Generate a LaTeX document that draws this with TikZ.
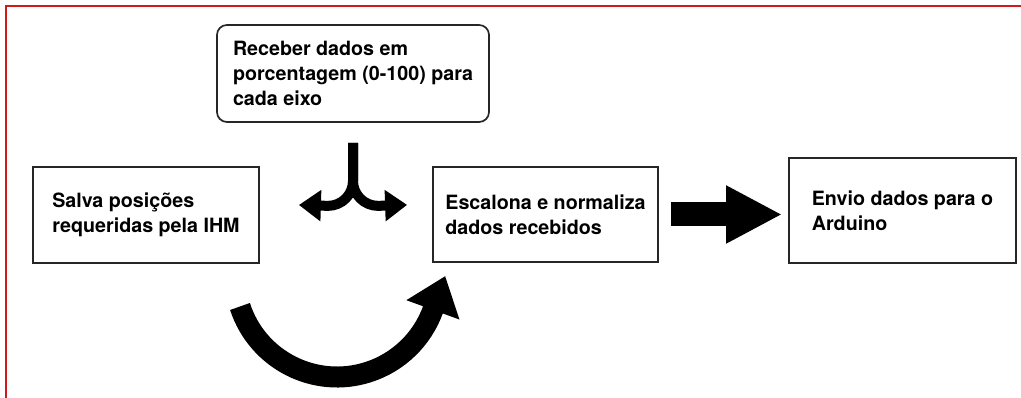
\documentclass[tikz,border=0pt]{standalone}
\usepackage{fontspec}
\setmainfont{TeX Gyre Heros}
\usetikzlibrary{arrows.meta}
\definecolor{frameRed}{RGB}{210,25,25}

\begin{document}
\begin{tikzpicture}[x=0.025cm, y=0.025cm,
    every node/.style={font=\fontsize{14}{17.5}\selectfont\bfseries},
    stage/.style={draw=black!85, line width=1.2pt, align=left},
    fork/.style={line width=0.25cm, -{Triangle[width=0.75cm, length=0.55cm]}},
    bigarrow/.style={line width=0.6cm, -{Triangle[width=1.35cm, length=1.4cm]}},
    loopArrow/.style={line width=0.525cm, -{Triangle[width=1.35cm, length=0.9cm]}},
    frameline/.style={draw=frameRed, line width=0.05cm}]
    \useasboundingbox (0,0) rectangle (1021,398);
    \draw[frameline] (6,0) -- (6,392) -- (1021,392);

    \node[stage, rounded corners=0.25cm, minimum width=6.8cm, minimum height=2.425cm] (recebe) at (353,324.5)
      {Receber dados em\\porcentagem (0-100) para\\cada eixo};
    \node[stage, minimum width=5.65cm, minimum height=2.4cm] (salva) at (146,183)
      {Salva posições\\requeridas pela IHM};
    \node[stage, minimum width=5.625cm, minimum height=2.375cm] (escalona) at (545.5,183.5)
      {Escalona e normaliza\\dados recebidos};
    \node[stage, minimum width=5.675cm, minimum height=2.625cm] (envio) at (902.5,187.5)
      {Envio dados para o\\Arduino};

    \coordinate (forkTop) at ([yshift=-0.5cm]recebe.south);
    \coordinate (forkLeft) at ([xshift=0.975cm, yshift=0.25cm]salva.east);
    \coordinate (forkRight) at ([xshift=-0.625cm, yshift=0.24cm]escalona.west);
    \draw[fork] (forkTop) -- ++(0,-38) arc[start angle=0, end angle=-90, radius=0.625cm] -- (forkLeft);
    \draw[fork] (forkTop) -- ++(0,-38) arc[start angle=180, end angle=270, radius=0.625cm] -- (forkRight);

    \draw[bigarrow] ([xshift=0.3cm]escalona.east) -- ([xshift=-0.15cm]escalona.east -| envio.west);

    \coordinate (loopStart) at (240,91.5);
    \draw[loopArrow] (loopStart) arc[start angle=198, end angle=340, radius=2.55cm] -- ++(70:0.9cm);
\end{tikzpicture}
\end{document}
